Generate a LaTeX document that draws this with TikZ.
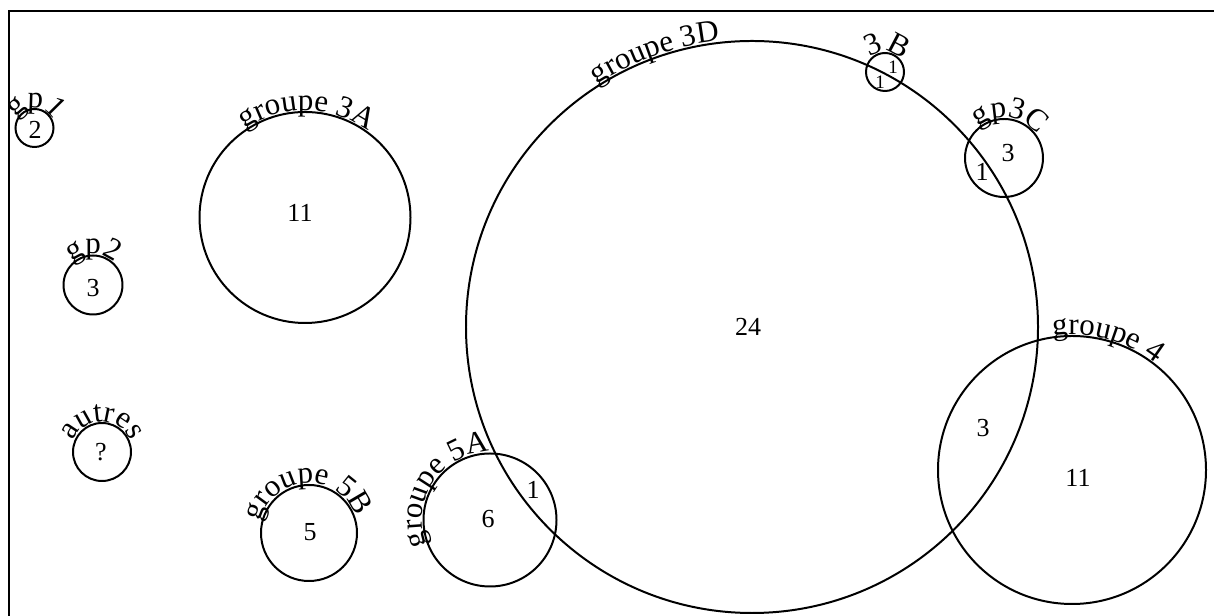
\documentclass[tikz,border=0pt]{standalone}
\usepackage{fontspec}
\setmainfont{Liberation Serif}
\usetikzlibrary{decorations.text}
\newcommand\lblfont{\fontsize{31bp}{31bp}\selectfont}
\newcommand\numfont{\fontsize{26bp}{26bp}\selectfont}
\newcommand\smallnumfont{\fontsize{19bp}{19bp}\selectfont}
\tikzset{
  x=1bp, y=1bp,
  grp/.style={circle, draw, line width=2pt, inner sep=0pt, minimum size=#1},
  num/.style={inner sep=0pt, font=\numfont},
  smallnum/.style={inner sep=0pt, font=\smallnumfont},
  frameline/.style={line width=2pt},
}
% curved label: #1 node, #2 radius, #3 middle angle, #4 half span, #5 text
\newcommand\curvelabel[5]{%
  \path[decorate, decoration={text along path, text align=center,
      text={|\lblfont|#5}}]
    ([shift={(#3+#4:#2)}]#1.center) arc[start angle=#3+#4, end angle=#3-#4, radius=#2];
}
\begin{document}
\begin{tikzpicture}
\useasboundingbox (0,0) rectangle (1214,616);
% frame
\coordinate (fBL) at (9,-2);
\coordinate (fTL) at (9,604.5);
\coordinate (fTR) at (1216,604.5);
\draw[frameline] (fBL) -- (fTL) -- (fTR);

% circles
\node[grp=38bp]  (gp1) at (34.5,488) {};
\node[grp=59bp]  (gp2) at (93,331) {};
\node[grp=211bp] (g3A) at (305,398.5) {};
\node[grp=58bp]  (aut) at (102,164) {};
\node[grp=96bp]  (g5B) at (309,83) {};
\node[grp=133bp] (g5A) at (490,96) {};
\node[grp=572bp] (g3D) at (752,289) {};
\node[grp=38bp]  (g3B) at (885,544) {};
\node[grp=78bp]  (g3C) at (1004,458) {};
\node[grp=268bp] (g4)  at (1072,146) {};

% labels
\curvelabel{gp1}{20.5}{88}{90}{gp1}
\curvelabel{gp2}{31}{90}{90}{gp2}
\curvelabel{g3A}{107}{89}{60}{groupe 3A}
\curvelabel{aut}{30.5}{90}{90}{autres}
\curvelabel{g5B}{50}{93}{87}{groupe 5B}
\curvelabel{g5A}{68}{146}{85}{groupe 5A}
\curvelabel{g3D}{288}{109.5}{40}{groupe 3D}
\curvelabel{g3B}{20.5}{84}{88}{3B}
\curvelabel{g3C}{40.5}{82}{88}{gp3C}
\curvelabel{g4}{135.5}{75}{70}{groupe 4}

% numbers
\node[num] (n1) at (35,486) {2};
\node[num] (n2) at (93,328) {3};
\node[num] (n3) at (300,403) {11};
\node[num] (n4) at (101,164) {?};
\node[num] (n5) at (310,84) {5};
\node[num] (n6) at (488,97) {6};
\node[num] (n7) at (533,126) {1};
\node[num] (n8) at (748,289) {24};
\node[smallnum] (n9) at (893,549) {1};
\node[smallnum] (n10) at (880,534) {1};
\node[num] (n11) at (1008,463) {3};
\node[num] (n12) at (982,444) {1};
\node[num] (n13) at (983,188) {3};
\node[num] (n14) at (1078,138) {11};
\end{tikzpicture}
\end{document}
